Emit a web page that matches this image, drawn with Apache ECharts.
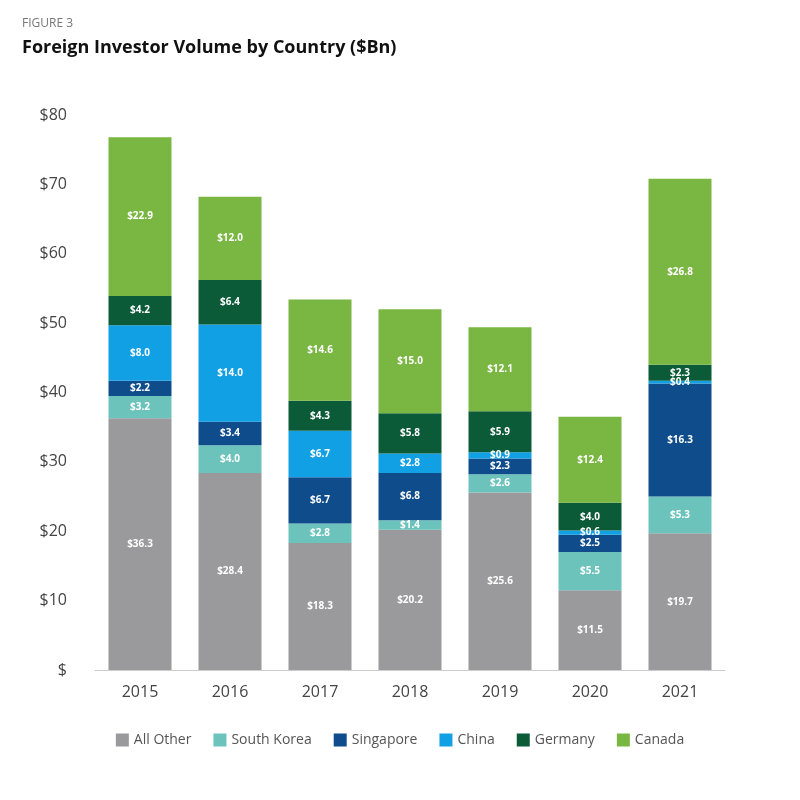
<!DOCTYPE html>
<html><head><meta charset="utf-8">
<script src="https://cdn.jsdelivr.net/npm/echarts@6/dist/echarts.min.js"></script>
<style>html,body{margin:0;padding:0;background:#fff}#c{width:800px;height:800px}</style>
</head><body><div id="c"></div>
<script>
const years = ["2015","2016","2017","2018","2019","2020","2021"];
const allOther = [36.3,28.4,18.3,20.2,25.6,11.5,19.7];
const southKorea = [3.2,4.0,2.8,1.4,2.6,5.5,5.3];
const singapore = [2.2,3.4,6.7,6.8,2.3,2.5,16.3];
const china = [8.0,14.0,6.7,2.8,0.9,0.6,0.4];
const germany = [4.2,6.4,4.3,5.8,5.9,4.0,2.3];
const canada = [22.9,12.0,14.6,15.0,12.1,12.4,26.8];
const names = ["All Other","South Korea","Singapore","China","Germany","Canada"];
const colors = ["#9a999b","#6cc3bc","#0f4c8c","#12a0e5","#0b5b38","#7ab642"];
const data = [allOther,southKorea,singapore,china,germany,canada];
const chart = echarts.init(document.getElementById('c'));
chart.setOption({
  animation:false,
  graphic:[
    {type:'text',left:22,top:18,style:{text:'FIGURE 3',fill:'#777',font:'12px "Open Sans"'}},
    {type:'text',left:22,top:39,style:{text:'Foreign Investor Volume by Country ($Bn)',fill:'#111',font:'bold 18px "Open Sans"'}}
  ],
  grid:{left:95,right:75,top:115,bottom:130},
  legend:{bottom:48,left:'center',itemWidth:13,itemHeight:13,itemGap:22,icon:'rect',
    textStyle:{color:'#555',fontSize:14,fontFamily:'Open Sans'},data:names},
  xAxis:{type:'category',data:years,axisTick:{show:false},
    axisLine:{lineStyle:{color:'#ccc'}},
    axisLabel:{color:'#444',fontSize:16,margin:14,fontFamily:'Open Sans'}},
  yAxis:{type:'value',min:0,max:80,interval:10,splitLine:{show:false},
    axisLabel:{color:'#444',fontSize:16,margin:28,fontFamily:'Open Sans',
      formatter:v=>v===0?'$':'$'+v}},
  series:names.map((n,i)=>({
    name:n,type:'bar',stack:'s',barWidth:63,
    itemStyle:{color:colors[i]},
    label:{show:true,color:'#fff',fontSize:10,fontWeight:'bold',fontFamily:'Open Sans',
      formatter:p=>'$'+p.value.toFixed(1)},
    data:data[i]
  }))
});
</script></body></html>
